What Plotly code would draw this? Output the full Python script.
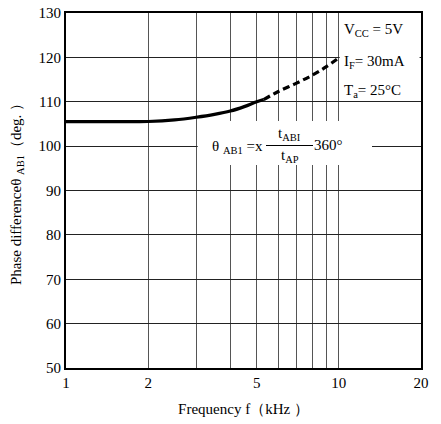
import plotly.graph_objects as go

# Data
freq_solid = [1, 1.5, 2, 2.5, 3, 3.5, 4, 4.5, 5, 5.3]
phase_solid = [105.5, 105.5, 105.55, 105.9, 106.5, 107.15, 107.9, 108.9, 110.0, 110.5]
freq_dash = [5.3, 6, 7, 8, 9, 10]
phase_dash = [110.5, 112.3, 114.2, 116.0, 117.9, 119.9]

x_tickvals = [1, 2, 3, 4, 5, 6, 7, 8, 9, 10, 20]
x_ticktext = ["1", "2", "", "", "5", "", "", "", "", "10", "20"]
y_tickvals = [50, 60, 70, 80, 90, 100, 110, 120, 130]

FONT = "Liberation Serif, Times New Roman, serif"

fig = go.Figure()
fig.add_trace(go.Scatter(x=freq_solid, y=phase_solid, mode="lines",
                         line=dict(color="black", width=3.2, shape="spline"),
                         cliponaxis=False, showlegend=False, hoverinfo="skip"))
fig.add_trace(go.Scatter(x=freq_dash, y=phase_dash, mode="lines",
                         line=dict(color="black", width=3.2, dash="7px,4px", shape="spline"),
                         showlegend=False, hoverinfo="skip"))

# plot-area edges in window pixels
L, R, T, B = 66, 421, 13, 368
W, H = R - L, B - T
def px(x):
    return (x - L) / W
def py(y):
    return (B - y) / H

shapes = [
    dict(type="rect", xref="paper", yref="paper", x0=0.771, x1=0.996, y0=0.754, y1=0.996,
         fillcolor="white", line=dict(width=0), layer="above"),
    dict(type="rect", xref="paper", yref="paper", x0=0.371, x1=px(372), y0=py(165), y1=py(121),
         fillcolor="white", line=dict(width=0), layer="above"),
    dict(type="line", xref="paper", yref="paper", x0=px(266), x1=px(313), y0=py(145.5), y1=py(145.5),
         line=dict(color="black", width=1), layer="above"),
]

ann_font = dict(family=FONT, size=15, color="black")
annotations = [
    dict(text="V<sub>CC</sub> = 5V", x=px(342), y=py(30), xanchor="left", yanchor="middle"),
    dict(text="I<sub>F</sub>= 30mA", x=px(342), y=py(62), xanchor="left", yanchor="middle"),
    dict(text="T<sub>a</sub>= 25°C", x=px(342), y=py(91), xanchor="left", yanchor="middle"),
    dict(text="θ <sub>AB1</sub> =x", x=px(265), y=py(147), xanchor="right", yanchor="middle"),
    dict(text="t<sub>ABI</sub>", x=px(289), y=py(134), xanchor="center", yanchor="middle"),
    dict(text="t<sub>AP</sub>", x=px(290), y=py(156), xanchor="center", yanchor="middle"),
    dict(text="360°", x=px(312), y=py(145), xanchor="left", yanchor="middle"),
]
for a in annotations:
    a.update(xref="paper", yref="paper", showarrow=False, font=ann_font)

fig.update_layout(
    width=441, height=424,
    margin=dict(l=L, r=441 - R, t=T, b=424 - B, autoexpand=False),
    paper_bgcolor="white", plot_bgcolor="white",
    font=dict(family=FONT, size=15, color="black"),
    shapes=shapes, annotations=annotations,
    hovermode=False,
    xaxis=dict(type="log", range=[0, 1.30103], tickvals=x_tickvals, ticktext=x_ticktext,
               showgrid=True, gridcolor="#555", gridwidth=1,
               showline=True, linecolor="black", linewidth=2, mirror=True,
               ticks="", zeroline=False, automargin=False, ticklabeloverflow="allow",
               title=dict(text="Frequency f（kHz ）", font=dict(family=FONT, size=15), standoff=13),
               tickfont=dict(family=FONT, size=15)),
    yaxis=dict(range=[50, 130], tickvals=y_tickvals,
               showgrid=True, gridcolor="#222", gridwidth=1,
               showline=True, linecolor="black", linewidth=2, mirror=True,
               ticks="", zeroline=False, automargin=False, ticklabeloverflow="allow",
               title=dict(text="Phase differenceθ <sub>AB1</sub>（deg. ）", font=dict(family=FONT, size=15), standoff=13),
               tickfont=dict(family=FONT, size=15)),
)

fig.write_html("out.html", config={"displayModeBar": False},
               post_script="document.body.style.margin='0';document.body.style.overflow='hidden';")
